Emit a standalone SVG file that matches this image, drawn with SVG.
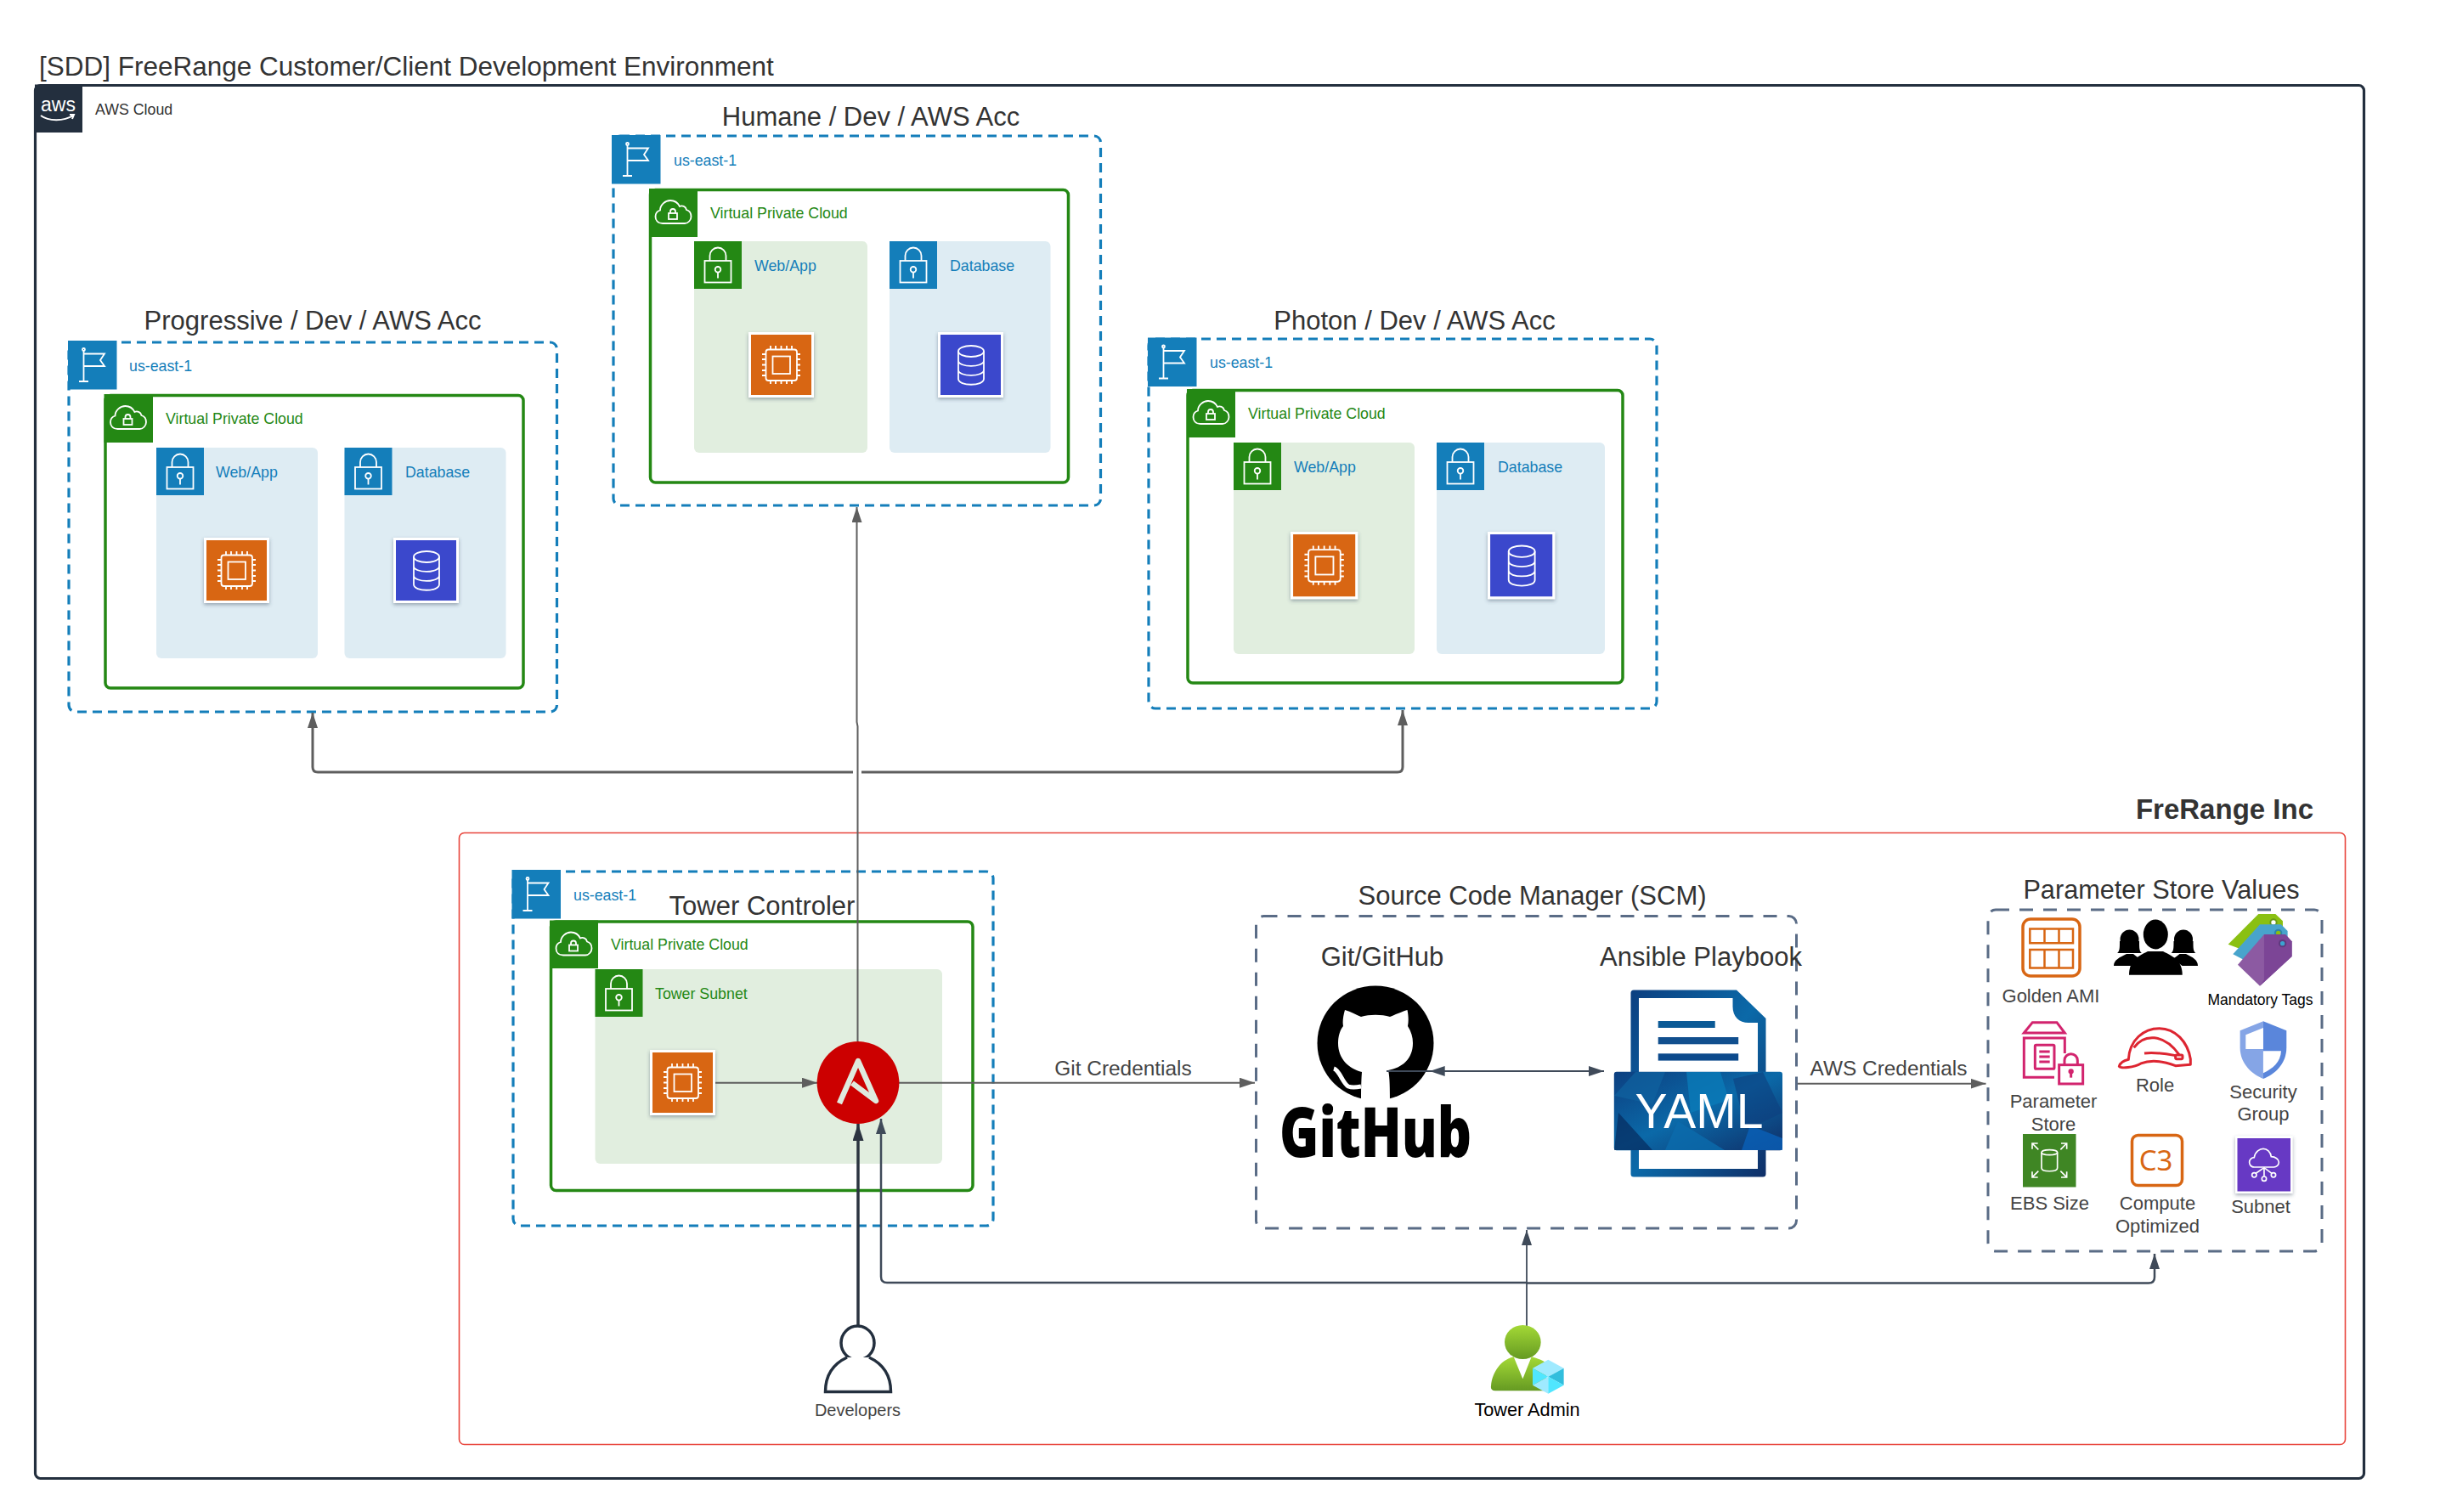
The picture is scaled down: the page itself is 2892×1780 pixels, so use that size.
<svg xmlns="http://www.w3.org/2000/svg" xmlns:xlink="http://www.w3.org/1999/xlink" width="2892" height="1780" viewBox="0 0 2892 1780">
<style>
text{font-family:"Liberation Sans",Arial,sans-serif;fill:#333}
.h{font-size:31px}
.s{font-size:17.8px}
.b{fill:#147eba}
.g{fill:#248814}
.m{text-anchor:middle}
.l{font-size:22px;fill:#444;text-anchor:middle}
.k{font-size:24.4px;fill:#444;text-anchor:middle}
.region{fill:none;stroke:#147eba;stroke-width:3.2;stroke-dasharray:11 7}
.vpc{fill:#fff;stroke:#248814;stroke-width:3.5}
.bfill{fill:#147eba}
.gfill{fill:#248814}
.bbg{fill:#deecf3}
.gbg{fill:#e1eedf}
.w{fill:none;stroke:#fff;stroke-width:1.8}
.scm{fill:none;stroke:#5a6c86;stroke-width:3;stroke-dasharray:16 12}
.c1{fill:none;stroke:#5e5e5e;stroke-width:2}
.c2{fill:none;stroke:#2b3440;stroke-width:3.5}
.c3{fill:none;stroke:#3f4a59;stroke-width:2.5}
.c4{fill:none;stroke:#3f4a59;stroke-width:1.8}
</style>
<defs>
<marker id="ag" viewBox="0 0 18 12" refX="18" refY="6" markerWidth="18" markerHeight="12" markerUnits="userSpaceOnUse" orient="auto"><path d="M0 0L18 6L0 12Z" fill="#5e5e5e"/></marker>
<marker id="ad" viewBox="0 0 20 13" refX="20" refY="6.5" markerWidth="20" markerHeight="13" markerUnits="userSpaceOnUse" orient="auto"><path d="M0 0L20 6.500L0 13Z" fill="#2b3440"/></marker>
<marker id="as" viewBox="0 0 18 12" refX="18" refY="6" markerWidth="18" markerHeight="12" markerUnits="userSpaceOnUse" orient="auto"><path d="M0 0L18 6L0 12Z" fill="#3f4a59"/></marker>
<filter id="sh" x="-20%" y="-20%" width="140%" height="140%"><feDropShadow dx="0" dy="2" stdDeviation="2" flood-color="#3a4a60" flood-opacity=".45"/></filter>
<linearGradient id="green" x1="0" y1="0" x2="0" y2="1"><stop offset="0" stop-color="#a4d936"/><stop offset="1" stop-color="#659a22"/></linearGradient>
<linearGradient id="yb" x1="0" y1="0" x2="1" y2="1"><stop offset="0" stop-color="#0c3f80"/><stop offset=".5" stop-color="#0b69a8"/><stop offset="1" stop-color="#0f2f68"/></linearGradient>
<g id="flag"><rect width="57.500" height="57.500" class="bfill"/><path class="w" d="M18.500 11V48M13 48H24M18.500 15.500H43L38 23L43 30H18.500"/><circle cx="18.500" cy="10.500" r="1.500" class="w"/></g>
<g id="cloud"><path class="w" d="M16 41C10 41 7.500 37 7.500 33C7.500 29 10 26.500 13 25.500C13 19 19 14 25 14C30 14 34 17 36 21C39 19.500 43 21 44 25C47.500 26 49.500 29.500 49.500 33C49.500 37 46 41 42 41Z"/><rect class="w" x="23" y="29" width="10" height="7"/><path class="w" d="M25 29V27A3 3 0 0 1 31 27V29"/></g>
<g id="lock"><path class="w" d="M18.500 23V17A9.500 9.500 0 0 1 37.500 17V23"/><rect class="w" x="12.500" y="23" width="31" height="25.500"/><circle class="w" cx="28" cy="33.300" r="3.300"/><path class="w" d="M28 36.600V43.500"/></g>
<g id="ec2"><rect width="77" height="77" fill="#fff" filter="url(#sh)"/><rect x="3" y="3" width="71" height="71" fill="#d86613"/><rect class="w" x="20.500" y="20.500" width="36.500" height="36.500" rx="3"/><rect class="w" x="28.500" y="28.500" width="20.500" height="20.500"/><path class="w" d="M26 20V16M32 20V16M38.500 20V16M45 20V16M51 20V16M26 61V57M32 61V57M38.500 61V57M45 61V57M51 61V57M16 26H20M16 32H20M16 38.500H20M16 45H20M16 51H20M57 26H61M57 32H61M57 38.500H61M57 45H61M57 51H61"/></g>
<g id="db"><rect width="77" height="77" fill="#fff" filter="url(#sh)"/><rect x="3" y="3" width="71" height="71" fill="#3b48cc"/><ellipse class="w" cx="39" cy="22.500" rx="15" ry="6.500"/><path class="w" d="M24 22.500V55C24 64 54 64 54 55V22.500M24 33.500C24 42 54 42 54 33.500M24 44.500C24 53 54 53 54 44.500"/></g>
</defs>

<text id="page-title" x="46" y="89" font-size="31.5">[SDD] FreeRange Customer/Client Development Environment</text>

<g id="aws-cloud">
<rect x="41.500" y="100.500" width="2741" height="1640" rx="6" fill="#fff" stroke="#232f3e" stroke-width="3.200"/>
<rect x="41" y="99.500" width="56" height="56.500" fill="#232f3e"/>
<text x="48" y="131" font-size="23" style="fill:#fff">aws</text>
<path d="M48 136C57 143 75 143 86 136M82 135L87 135L85 140" fill="none" stroke="#fff" stroke-width="2"/>
<text x="112" y="135" class="s">AWS Cloud</text>
</g>

<g id="frerange">
<rect x="540.500" y="980.500" width="2220" height="720" rx="6" fill="none" stroke="#e8453c" stroke-width="1.600"/>
<text x="2723" y="964" font-size="33" font-weight="bold" text-anchor="end">FreRange Inc</text>
</g>

<g id="progressive">
<text class="h m" x="368" y="388">Progressive / Dev / AWS Acc</text>
<rect class="region" x="81" y="403" width="574.500" height="435" rx="8"/>
<use href="#flag" x="80" y="401"/>
<text class="s b" x="152" y="437">us-east-1</text>
<rect class="vpc" x="124" y="465.500" width="492" height="344.500" rx="6"/>
<rect class="gfill" x="122.500" y="464" width="57.500" height="57"/><use href="#cloud" x="122.500" y="464"/>
<text class="s g" x="195" y="499">Virtual Private Cloud</text>
<rect class="bbg" x="184" y="527" width="190" height="248" rx="6"/><rect class="bfill" x="184" y="527" width="56" height="56"/><use href="#lock" x="184" y="527"/>
<text class="s b" x="254" y="562">Web/App</text>
<rect class="bbg" x="405.500" y="527" width="190" height="248" rx="6"/><rect class="bfill" x="405.500" y="527" width="56" height="56"/><use href="#lock" x="405.500" y="527"/>
<text class="s b" x="477" y="562">Database</text>
<use href="#ec2" x="240" y="633"/><use href="#db" x="463" y="633"/>
</g>

<g id="humane">
<text class="h m" x="1025" y="148">Humane / Dev / AWS Acc</text>
<rect class="region" x="722" y="160" width="573.500" height="435" rx="8"/>
<use href="#flag" x="720" y="159"/>
<text class="s b" x="793" y="194.500">us-east-1</text>
<rect class="vpc" x="765.500" y="223.500" width="492" height="344.500" rx="6"/>
<rect class="gfill" x="764" y="222" width="57" height="57"/><use href="#cloud" x="764" y="222"/>
<text class="s g" x="836" y="257">Virtual Private Cloud</text>
<rect class="gbg" x="817" y="284" width="204" height="249" rx="6"/><rect class="gfill" x="817" y="284" width="56" height="56"/><use href="#lock" x="817" y="284"/>
<text class="s b" x="888" y="319">Web/App</text>
<rect class="bbg" x="1047" y="284" width="189.500" height="249" rx="6"/><rect class="bfill" x="1047" y="284" width="56" height="56"/><use href="#lock" x="1047" y="284"/>
<text class="s b" x="1118" y="319">Database</text>
<use href="#ec2" x="881" y="391"/><use href="#db" x="1104" y="391"/>
</g>

<g id="photon">
<text class="h m" x="1665" y="388">Photon / Dev / AWS Acc</text>
<rect class="region" x="1352" y="399" width="598" height="435" rx="8"/>
<use href="#flag" x="1351" y="397.500"/>
<text class="s b" x="1424" y="433">us-east-1</text>
<rect class="vpc" x="1398" y="459.500" width="512" height="344.500" rx="6"/>
<rect class="gfill" x="1397" y="458" width="57" height="57"/><use href="#cloud" x="1397" y="458"/>
<text class="s g" x="1469" y="493">Virtual Private Cloud</text>
<rect class="gbg" x="1452" y="521" width="213" height="249" rx="6"/><rect class="gfill" x="1452" y="521" width="56" height="56"/><use href="#lock" x="1452" y="521"/>
<text class="s b" x="1523" y="556">Web/App</text>
<rect class="bbg" x="1691" y="521" width="198" height="249" rx="6"/><rect class="bfill" x="1691" y="521" width="56" height="56"/><use href="#lock" x="1691" y="521"/>
<text class="s b" x="1763" y="556">Database</text>
<g transform="translate(1519 626) scale(1.030)"><use href="#ec2"/></g><g transform="translate(1751 626) scale(1.030)"><use href="#db"/></g>
</g>

<g id="tower">
<rect class="region" x="604" y="1026" width="565" height="417" rx="8"/>
<use href="#flag" x="602.500" y="1024"/>
<text class="s b" x="675" y="1060">us-east-1</text>
<rect class="vpc" x="648.500" y="1085" width="496.500" height="316.500" rx="6"/>
<rect class="gfill" x="647" y="1083.500" width="57" height="56.500"/><use href="#cloud" x="647" y="1083.500"/>
<text class="s g" x="719" y="1118">Virtual Private Cloud</text>
<rect class="gbg" x="700.500" y="1141" width="408.500" height="229" rx="6"/><rect class="gfill" x="700.500" y="1141" width="56" height="56"/><use href="#lock" x="700.500" y="1141"/>
<text class="s g" x="771" y="1176">Tower Subnet</text>
<use href="#ec2" x="765" y="1236"/>
<text class="h m" x="897" y="1077">Tower Controler</text>
</g>

<g id="scm">
<text class="h m" x="1803.500" y="1065">Source Code Manager (SCM)</text>
<rect class="scm" x="1478.500" y="1078.500" width="636" height="367.500" rx="9"/>
</g>

<g id="github">
<text class="h m" x="1627" y="1137">Git/GitHub</text>
<ellipse cx="1619" cy="1228" rx="68.500" ry="67.500" fill="#000"/>
<path fill="#fff" d="M1583 1189C1590 1191 1597 1195 1602 1197C1612 1194 1626 1194 1636 1197C1641 1195 1650 1191 1656.500 1189C1658 1196 1658 1203 1657 1208C1661 1214 1663 1221 1663 1228C1663 1247 1650 1257 1634 1260C1635 1264 1636 1270 1636 1298H1602C1602 1285 1602 1275 1603 1262C1588 1258 1575 1247 1575 1228C1575 1220 1577 1213 1581 1208C1580 1203 1581 1196 1583 1189Z"/>
<path d="M1570 1258C1577 1260 1580 1275 1587 1279C1592 1281 1597 1280 1602 1279" fill="none" stroke="#fff" stroke-width="5"/>
<text x="1506" y="1362" font-size="82" font-weight="800" textLength="226" lengthAdjust="spacingAndGlyphs" style="font-family:'Open Sans','Liberation Sans',sans-serif;fill:#000">GitHub</text>
</g>

<g id="yaml">
<text class="h m" x="2002" y="1137">Ansible Playbook</text>
<path d="M1923 1165.500H2044L2078.500 1199V1382Q2078.500 1385.500 2075 1385.500H1923Q1919.500 1385.500 1919.500 1382V1169Q1919.500 1165.500 1923 1165.500Z" fill="url(#yb)"/>
<path d="M1929 1175H2039.500V1185C2039.500 1197 2047 1204 2058 1204H2069V1263H1929Z" fill="#fff"/>
<rect x="1951.700" y="1202" width="67" height="8" fill="#0b5a96"/>
<rect x="1951.700" y="1221" width="94.500" height="8.300" fill="#114f8e"/>
<rect x="1951.700" y="1240.300" width="94.500" height="8.300" fill="#0c4a8c"/>
<rect x="1899.800" y="1261.700" width="198.200" height="92.500" rx="3" fill="url(#yb)"/>
<polygon points="1925,1262 1960,1262 1945,1300 1900,1290" fill="#0f63a0" opacity=".7"/>
<polygon points="1985,1262 2025,1262 2035,1295 1990,1310" fill="#0a7ab8" opacity=".8"/>
<polygon points="2040,1270 2075,1262 2098,1310 2055,1330" fill="#0d3f7e" opacity=".6"/>
<polygon points="1905,1310 1945,1354 1900,1354" fill="#052b5e" opacity=".7"/>
<polygon points="1975,1320 2030,1354 1960,1354" fill="#0b6cac" opacity=".8"/>
<polygon points="2060,1325 2098,1340 2098,1354 2050,1354" fill="#0a60b8" opacity=".8"/>
<rect x="1929" y="1354" width="140" height="22" fill="#fff"/>
<text x="2000" y="1328" font-size="57" text-anchor="middle" style="fill:#fff">YAML</text>
</g>

<g id="parameter-store">
<text x="2544" y="1058" font-size="30.700" text-anchor="middle">Parameter Store Values</text>
<rect class="scm" x="2340" y="1071" width="393" height="402" rx="9"/>
</g>

<g id="golden-ami">
<rect x="2381" y="1082" width="67" height="67" rx="9" fill="none" stroke="#d86613" stroke-width="3.500"/>
<path d="M2389.300 1093.500H2440V1110.200H2389.300ZM2389.300 1118H2440V1139.500H2389.300ZM2406.500 1093.500V1110M2423.500 1093.500V1110M2406.500 1118V1139.500M2423.500 1118V1139.500" fill="none" stroke="#d86613" stroke-width="2.500"/>
<text class="l" x="2414" y="1180">Golden AMI</text>
</g>

<g id="people" fill="#000">
<ellipse cx="2537.300" cy="1100" rx="14.500" ry="17.500"/>
<path d="M2506 1147.700C2506 1132 2515 1126 2528 1120H2546C2559 1126 2568.700 1132 2568.700 1147.700Z"/>
<ellipse cx="2506.500" cy="1106" rx="11" ry="11.500"/>
<path d="M2495 1108C2495 1116 2495 1120 2492 1122H2521C2518 1120 2518 1116 2518 1108Z"/>
<path d="M2488 1137C2488 1130 2495 1127 2503 1123H2511C2514 1126 2518 1128 2522 1130C2516 1132 2511 1134 2508 1137Z"/>
<ellipse cx="2570" cy="1106" rx="11" ry="11.500"/>
<path d="M2581.500 1108C2581.500 1116 2581.500 1120 2584.500 1122H2555.500C2558.500 1120 2558.500 1116 2558.500 1108Z"/>
<path d="M2587 1137C2587 1130 2581 1127 2573 1123H2565.500C2562.500 1126 2558.500 1128 2554.500 1130C2560.500 1132 2565.500 1134 2568.500 1137Z"/>
</g>

<g id="mandatory-tags">
<g transform="translate(2320 1020) scale(.3333)">
<polygon points="1015,168 1075,168 1101,193 1101,225 1000,310 908,275" fill="#8ac012"/>
<circle cx="1068" cy="198" r="14" fill="#6a9a18"/><circle cx="1068" cy="198" r="8" fill="#fff"/>
<polygon points="1020,205 1095,205 1118,228 1118,265 1010,355 925,310" fill="#48a4cc"/>
<circle cx="1085" cy="235" r="14" fill="#2d84aa"/><circle cx="1085" cy="235" r="8" fill="#8ac012"/>
<polygon points="1035,240 1110,240 1133,265 1133,318 1020,422 942,347" fill="#8c5aa2"/>
<polygon points="1035,240 1110,240 1133,265 1133,318 1020,422 1035,400" fill="#7c4596"/>
<circle cx="1100" cy="272" r="14" fill="#5f3a7e"/><circle cx="1100" cy="272" r="8" fill="#3ba4d0"/>
</g>
<text x="2660.500" y="1183" font-size="17.500" text-anchor="middle" style="fill:#000">Mandatory Tags</text>
</g>

<g id="parameter-store-icon">
<g transform="translate(2320 1020) scale(.3333)" fill="none" stroke="#d2246e" stroke-width="9">
<path d="M187 588L217 551H303L331 588Z"/>
<path d="M294 745H187V606H331V660"/>
<rect x="226" y="631" width="68" height="84" rx="4"/>
<path d="M241 654H278M241 672H278M241 690H278"/>
<rect x="311" y="701" width="84" height="67"/>
<path d="M330 701V685A23 23 0 0 1 376 685V701"/>
<circle cx="353" cy="724" r="5"/><path d="M353 728V746"/>
</g>
<text class="l" x="2417" y="1304">Parameter</text>
<text class="l" x="2417" y="1331">Store</text>
</g>

<g id="role">
<g transform="translate(2320 1020) scale(.3333)" fill="none" stroke="#dd2531" stroke-width="9" stroke-linejoin="round">
<path d="M556 682C560 612 610 572 665 572C722 572 765 620 775 680V700L722 704C680 688 640 680 600 696C575 710 530 715 523 706C526 695 540 686 556 682Z"/>
<path d="M575 640C610 592 680 588 735 665M612 660C650 656 690 662 722 668"/>
<rect x="722" y="666" width="25" height="14" rx="4"/>
</g>
<text class="l" x="2536.500" y="1285">Role</text>
</g>

<g id="security-group">
<g transform="translate(2320 1020) scale(.3333)">
<path d="M1032 547L950 580V640C950 700 995 735 1032 750Z" fill="#85a5e6"/>
<path d="M1032 547L1114 580V640C1114 700 1070 735 1032 750Z" fill="#5a86db"/>
<path d="M970 595L1032 570V645H970Z" fill="#fff"/>
<path d="M1032 652H1095C1094 690 1065 715 1032 730Z" fill="#fff"/>
</g>
<text class="l" x="2664" y="1292.500">Security</text>
<text class="l" x="2664" y="1319">Group</text>
</g>

<g id="ebs-size">
<rect x="2381" y="1335" width="62.500" height="62.500" fill="#3f8624"/>
<g transform="translate(2320 1020) scale(.3333)" fill="none" stroke="#fff" stroke-width="5">
<ellipse cx="277" cy="1010" rx="28" ry="9"/>
<path d="M249 1010V1065C249 1080 305 1080 305 1065V1010"/>
<path d="M238 1000L216 978M216 998V978H236M316 1000L338 978M318 978H338V998M238 1076L216 1098M216 1078V1098H236M316 1076L338 1098M338 1078V1098H318"/>
</g>
<text class="l" x="2412.500" y="1424">EBS Size</text>
</g>

<g id="compute-optimized">
<rect x="2509.500" y="1336.500" width="59" height="59" rx="7" fill="none" stroke="#d86613" stroke-width="3.500"/>
<text x="2537.500" y="1378" font-size="33" text-anchor="middle" style="font-family:'Noto Sans',sans-serif;fill:#d86613">C3</text>
<text class="l" x="2539.500" y="1424">Compute</text>
<text class="l" x="2539.500" y="1451">Optimized</text>
</g>

<g id="subnet">
<rect x="2631" y="1337.500" width="67.500" height="67.500" fill="#fff" filter="url(#sh)"/>
<rect x="2633.500" y="1340" width="62.500" height="62.500" fill="#6739c4"/>
<g transform="translate(2320 1020) scale(.3333)" fill="none" stroke="#fff" stroke-width="5">
<path d="M1000 1062C985 1062 983 1048 983 1045C983 1035 992 1028 1000 1028C1003 1008 1020 997 1032 997C1045 997 1058 1008 1060 1025C1075 1025 1087 1035 1087 1045C1087 1055 1078 1062 1070 1062Z"/>
<path d="M1035 1062V1094M1035 1064L1006 1084M1035 1064L1062 1084"/>
<circle cx="1000" cy="1090" r="8"/><circle cx="1035" cy="1103" r="8"/><circle cx="1068" cy="1090" r="8"/>
</g>
<text class="l" x="2661" y="1427.500">Subnet</text>
</g>

<g id="connectors">
<path class="c1" d="M1009.500 1226V855L1008.500 850V597" marker-end="url(#ag)"/>
<path class="c1" style="stroke-width:3" d="M1004 909H374Q368 909 368 903V839" marker-end="url(#ag)"/>
<path class="c1" style="stroke-width:3" d="M1014 909H1645Q1651 909 1651 903V836" marker-end="url(#ag)"/>
<path class="c1" d="M842 1274.700H962" marker-end="url(#ag)"/>
<path class="c1" d="M1058 1274.700H1477" marker-end="url(#ag)"/>
<path class="c1" d="M2116 1275.700H2337.500" marker-end="url(#ag)"/>
<path class="c2" d="M1010 1561V1323" marker-end="url(#ad)"/>
<path class="c3" d="M1797 1510H1044Q1037 1510 1037 1503V1317" marker-end="url(#as)"/>
<path class="c3" d="M1797 1510.500H2529Q2536 1510.500 2536 1503.500V1476" marker-end="url(#as)"/>
<path class="c4" d="M1797 1563V1448" marker-end="url(#as)"/>
<path class="c4" d="M1632 1261H1888" marker-end="url(#as)"/>
<path class="c4" d="M1700 1261H1682.700" marker-end="url(#as)"/>
<text class="k" x="1322" y="1266">Git Credentials</text>
<text class="k" x="2223" y="1266">AWS Credentials</text>
</g>

<g id="ansible">
<circle cx="1010" cy="1274.500" r="48.400" fill="#cc0000"/>
<path d="M988 1299L1010 1249L1031 1296L1003 1275" fill="none" stroke="#dfeade" stroke-width="6.500" stroke-linejoin="round"/>
</g>

<g id="developers">
<ellipse cx="1009.500" cy="1581" rx="19.500" ry="20" fill="#fff" stroke="#232f3e" stroke-width="3.500"/>
<path d="M997 1598C982 1605 971.500 1618 971.500 1638.500H1048.500C1048.500 1618 1038 1605 1023 1598" fill="#fff" stroke="#232f3e" stroke-width="3.500"/>
<text x="1009.500" y="1667" font-size="20" text-anchor="middle" style="fill:#444">Developers</text>
</g>

<g id="tower-admin">
<g transform="translate(1720 1560) scale(.3333)">
<ellipse cx="217" cy="60" rx="64" ry="60" fill="url(#green)"/>
<path d="M105 215C110 160 145 120 185 112L217 190L248 112C270 118 290 125 300 135V232H120C108 232 103 225 105 215Z" fill="url(#green)"/>
<polygon points="307,122 362,152 307,182 252,152" fill="#9feaff"/>
<polygon points="362,152 362,212 307,182" fill="#32bedd"/>
<polygon points="252,152 307,182 252,212" fill="#50e6ff"/>
<polygon points="252,212 307,182 307,242" fill="#9feaff"/>
<polygon points="307,182 362,212 307,242" fill="#50e6ff"/>
</g>
<text x="1797.500" y="1667" font-size="21.700" text-anchor="middle" style="fill:#000">Tower Admin</text>
</g>
</svg>
